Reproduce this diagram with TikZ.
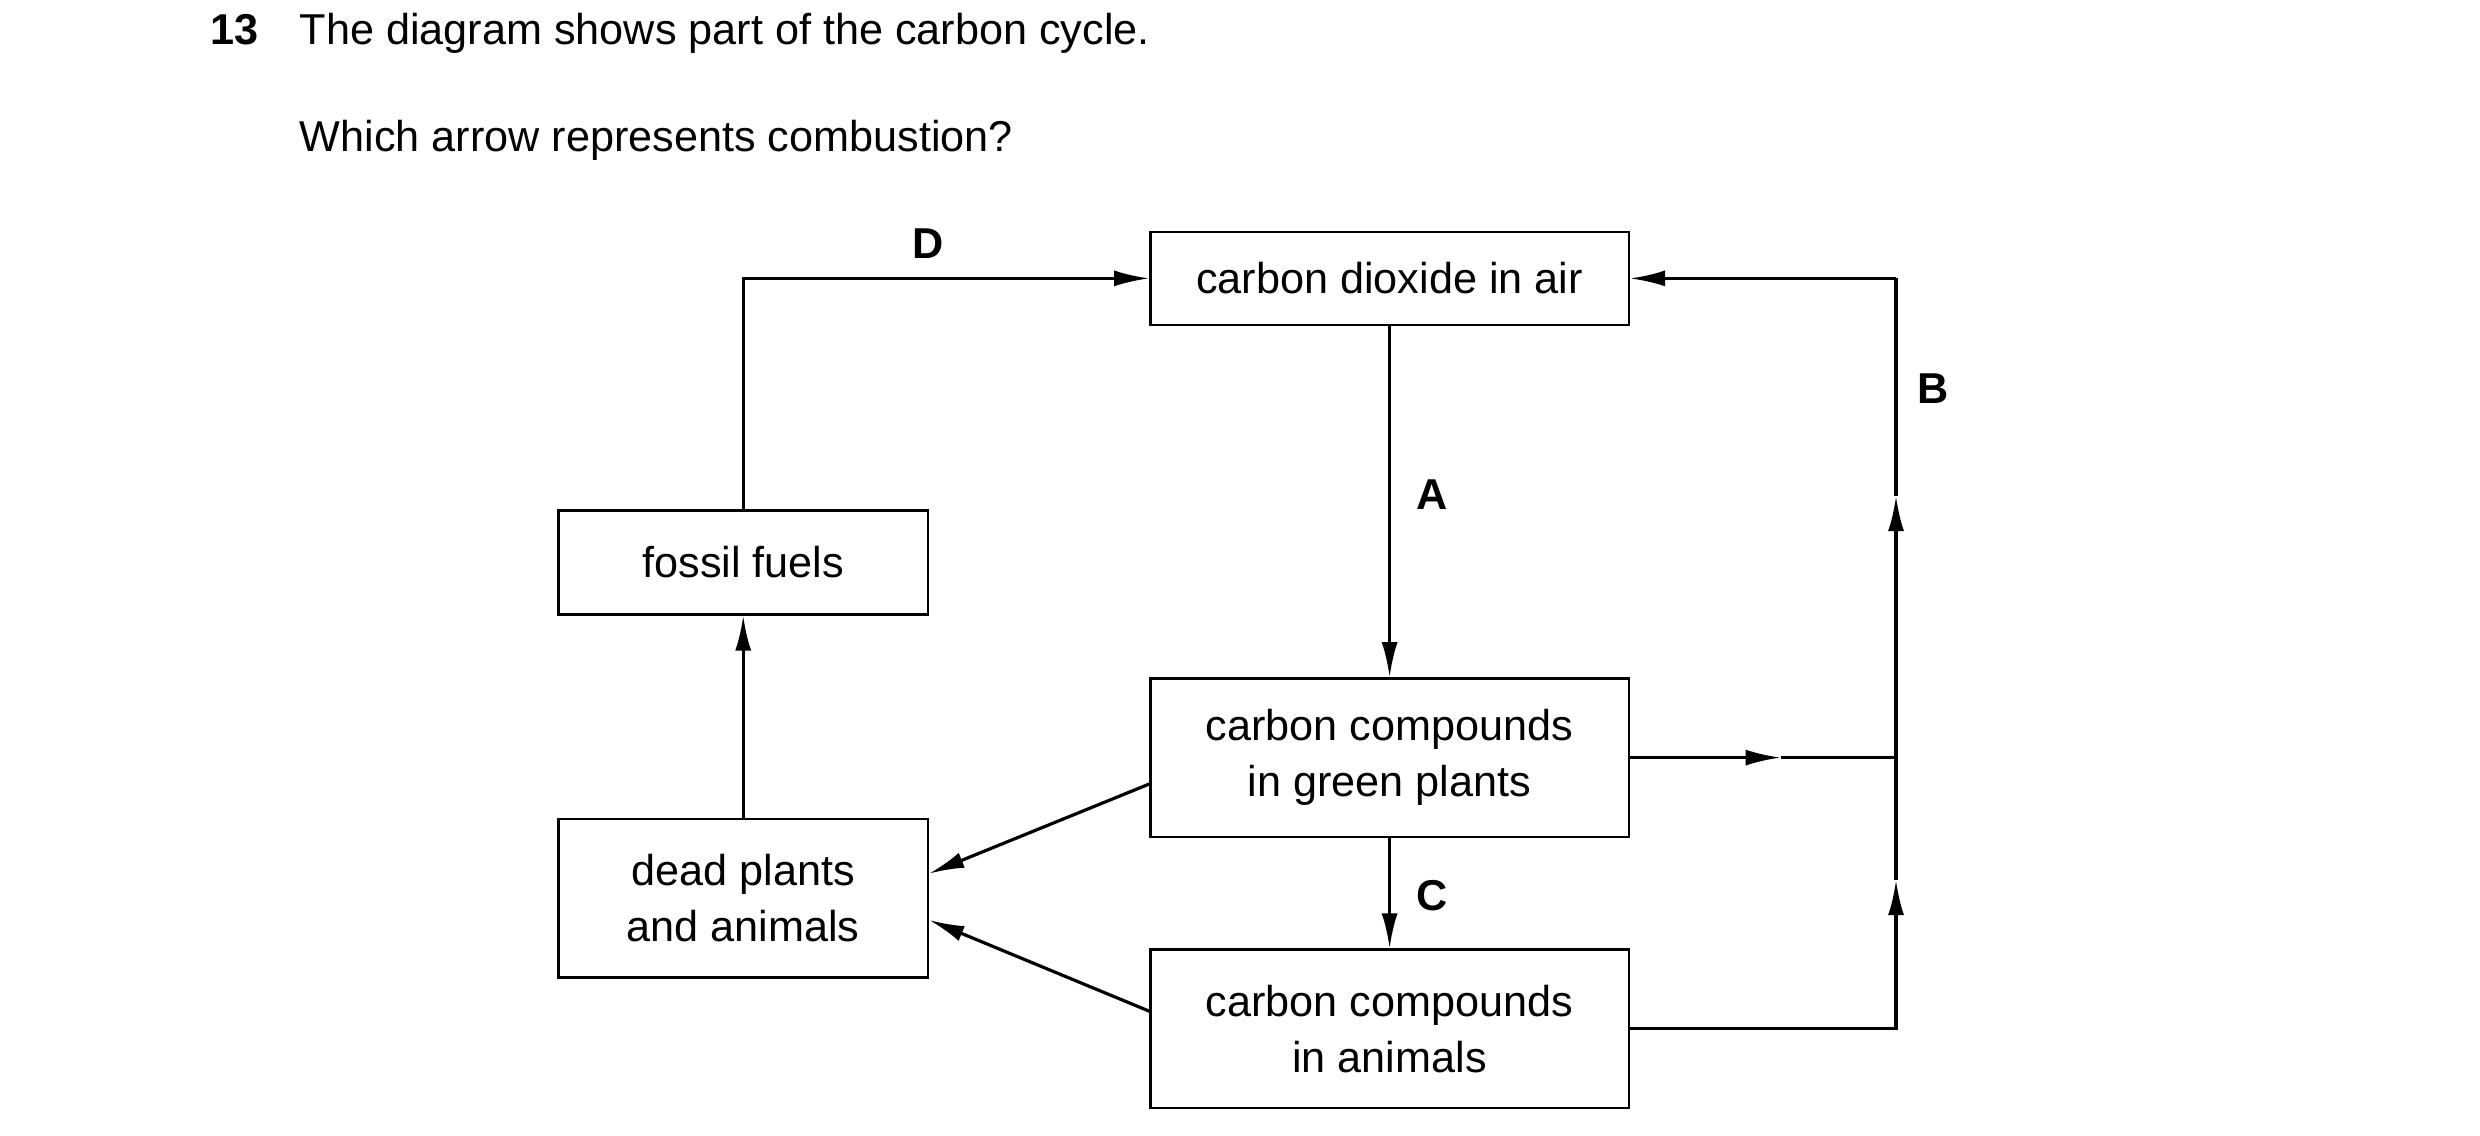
\documentclass[tikz,border=0pt]{standalone}
\usepackage{fontspec}
\setmainfont{Liberation Sans}
\usetikzlibrary{arrows.meta}
\begin{document}
\begin{tikzpicture}[x=0.5pt,y=-0.5pt,
  box/.style={draw,line width=0.7pt,inner sep=0pt,align=center,font=\fontsize{13.5}{17.5}\selectfont},
  con/.style={line width=1pt,-{Latex[length=11pt,width=5pt]}},
  ln/.style={line width=1pt},
  lab/.style={font=\fontsize{13.5}{16}\selectfont\bfseries},
  txt/.style={anchor=base west,inner sep=0pt,font=\fontsize{13.5}{16}\selectfont}]
\useasboundingbox (0,0) rectangle (1550,710);
\node[txt,font=\fontsize{13.5}{16}\selectfont\bfseries] (num) at (131,28) {13};
\node[txt] (t1) at (187,28) {The diagram shows part of the carbon cycle.};
\node[txt] (t2) at (187,95) {Which arrow represents combustion?};
\node[box,minimum width=149.5pt,minimum height=29pt] (co2) at (868.5,174) {carbon dioxide in air};
\node[box,minimum width=115.5pt,minimum height=32.5pt] (fos) at (464.5,351.5) {fossil fuels};
\node[box,minimum width=149.5pt,minimum height=49.5pt] (gp) at (868.5,473.5) {carbon compounds\\in green plants};
\node[box,minimum width=115.5pt,minimum height=49.5pt] (dead) at (464.5,561.5) {dead plants\\and animals};
\node[box,minimum width=149.5pt,minimum height=49.5pt] (an) at (868.5,643) {carbon compounds\\in animals};
\coordinate (b1) at (1185,550);
\coordinate (b2) at (1185,310);
\coordinate (bt) at (1185,174);
\coordinate (j) at (1185,473.5);
\coordinate (gm) at (1113,473.5);
\draw[con] (fos.north) |- (co2.west);
\draw[con] (co2.south) -- (gp.north);
\draw[con] (gp.south) -- (an.north);
\draw[con] (dead.north) -- (fos.south);
\draw[con] (gp.west |- 0,490) -- (dead.east |- 0,546);
\draw[con] (an.west |- 0,632) -- (dead.east |- 0,575);
\draw[con] (an.east) -| (b1);
\draw[ln] (b1) -- (j);
\draw[con] (j) -- (b2);
\draw[ln] (b2) -- (bt);
\draw[con] (bt) -- (co2.east);
\draw[con] (gp.east) -- (gm);
\draw[ln] (gm) -- (j);
\node[lab] (lD) at (580,152) {D};
\node[lab] (lA) at (895,309) {A};
\node[lab] (lB) at (1208,243) {B};
\node[lab] (lC) at (895,560) {C};
\end{tikzpicture}
\end{document}
